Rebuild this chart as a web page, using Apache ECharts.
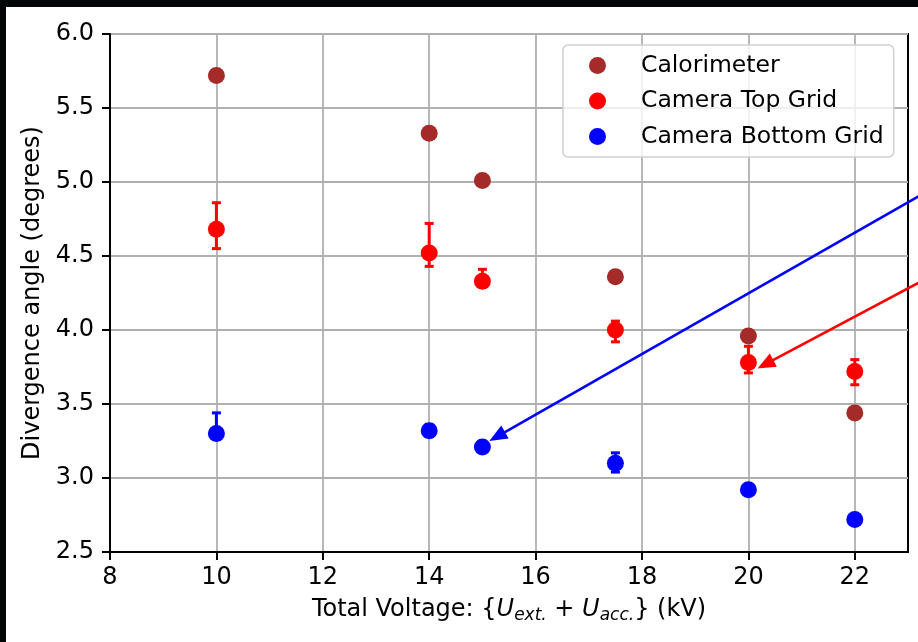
<!DOCTYPE html>
<html><head><meta charset="utf-8">
<script src="https://cdn.jsdelivr.net/npm/echarts@6/dist/echarts.min.js"></script>
<style>
html,body{margin:0;padding:0;background:#020606;width:918px;height:642px;overflow:hidden}
#chart{position:absolute;left:6px;top:7px;width:914px;height:637px;background:#fff}
</style></head><body><div id="chart"></div>
<script>
// ---- data ----
const voltage = [10, 14, 15, 17.5, 20, 22];
const calorimeter = [5.72, 5.33, 5.01, 4.36, 3.96, 3.44];
const topGrid = [4.68, 4.52, 4.33, 4.00, 3.78, 3.72];
const topGridLow = [4.55, 4.43, 4.29, 3.92, 3.71, 3.63];
const topGridHigh = [4.86, 4.72, 4.41, 4.06, 3.89, 3.80];
const bottomGrid = [3.30, 3.32, 3.21, 3.10, 2.92, 2.72];
const bottomGridLow = [3.26, 3.28, 3.19, 3.04, 2.90, 2.70];
const bottomGridHigh = [3.44, 3.36, 3.23, 3.17, 2.94, 2.74];
const xTicks = [8, 10, 12, 14, 16, 18, 20, 22];
const xMax = 23;
const yTicks = [2.5, 3.0, 3.5, 4.0, 4.5, 5.0, 5.5, 6.0];
// annotation arrows: [tailX, tailY, tipX, tipY]
const blueArrow = [23.62, 4.99, 15.13, 3.25];
const redArrow = [23.62, 4.40, 20.17, 3.74];
const seriesNames = ['Calorimeter', 'Camera Top Grid', 'Camera Bottom Grid'];
const colors = ['#a52a2a', '#ff0000', '#0000ff'];

const FONT = 'DejaVu Sans';
const pts = (ys) => voltage.map((x, i) => [x, ys[i]]);
const errs = (lo, hi) => voltage.map((x, i) => [x, lo[i], hi[i]]);

function errRender(color) {
  return function (params, api) {
    const x = api.value(0);
    const lo = api.coord([x, api.value(1)]);
    const hi = api.coord([x, api.value(2)]);
    const cw = 4.5;
    const st = { stroke: color, lineWidth: 3 };
    return { type: 'group', children: [
      { type: 'line', shape: { x1: lo[0], y1: lo[1], x2: hi[0], y2: hi[1] }, style: st },
      { type: 'line', shape: { x1: lo[0] - cw, y1: lo[1], x2: lo[0] + cw, y2: lo[1] }, style: st },
      { type: 'line', shape: { x1: hi[0] - cw, y1: hi[1], x2: hi[0] + cw, y2: hi[1] }, style: st }
    ] };
  };
}
function arrowRender(color) {
  return function (params, api) {
    const t = api.coord([api.value(0), api.value(1)]);
    const p = api.coord([api.value(2), api.value(3)]);
    const dx = p[0] - t[0], dy = p[1] - t[1];
    const L = Math.hypot(dx, dy);
    const ux = dx / L, uy = dy / L;
    const hl = 18, hw = 7.5;
    const bx = p[0] - ux * hl, by = p[1] - uy * hl;
    return { type: 'group', children: [
      { type: 'line', shape: { x1: t[0], y1: t[1], x2: bx + ux * 2, y2: by + uy * 2 }, style: { stroke: color, lineWidth: 2.6 } },
      { type: 'polygon', shape: { points: [[p[0], p[1]], [bx - uy * hw, by + ux * hw], [bx + uy * hw, by - ux * hw]] }, style: { fill: color } }
    ] };
  };
}

const chart = echarts.init(document.getElementById('chart'), null, { renderer: 'canvas' });
chart.setOption({
  animation: false,
  backgroundColor: '#ffffff',
  grid: { left: 104, top: 27, right: 12, bottom: 92, show: true, borderColor: '#000', borderWidth: 2, outerBoundsMode: 'none' },
  legend: {
    data: seriesNames,
    orient: 'vertical',
    left: 557, top: 38,
    icon: 'circle',
    itemWidth: 17, itemHeight: 17, itemGap: 11.5,
    padding: [8.5, 10, 8.5, 26],
    backgroundColor: 'rgba(255,255,255,0.8)',
    borderColor: '#d0d0d0', borderWidth: 1.5, borderRadius: 5,
    selectedMode: false,
    textStyle: { fontFamily: FONT, fontSize: 23.5, color: '#000', lineHeight: 24, padding: [0, 0, 0, 30] }
  },
  xAxis: {
    type: 'value', min: xTicks[0], max: xMax, interval: xTicks[1] - xTicks[0],
    name: 'Total Voltage: {{i|U}{s|ext.} + {i|U}{s|acc.}} (kV)',
    nameLocation: 'middle', nameGap: 43,
    nameTextStyle: {
      fontFamily: FONT, fontSize: 24, color: '#000',
      rich: {
        i: { fontFamily: FONT, fontStyle: 'italic', fontSize: 24, color: '#000' },
        s: { fontFamily: FONT, fontStyle: 'italic', fontSize: 17, color: '#000', padding: [12, 0, 0, 0] }
      }
    },
    axisLine: { show: true, onZero: false, lineStyle: { color: '#000', width: 2 } },
    axisTick: { show: true, length: 8, lineStyle: { color: '#000', width: 2 }, customValues: xTicks },
    axisLabel: { margin: 14, fontFamily: FONT, fontSize: 24, color: '#000', customValues: xTicks },
    splitLine: { show: true, lineStyle: { color: '#b0b0b0', width: 1.8 } }
  },
  yAxis: {
    type: 'value', min: yTicks[0], max: yTicks[yTicks.length - 1], interval: yTicks[1] - yTicks[0],
    name: 'Divergence angle (degrees)',
    nameLocation: 'middle', nameGap: 64,
    nameTextStyle: { fontFamily: FONT, fontSize: 24, color: '#000' },
    axisLine: { show: true, onZero: false, lineStyle: { color: '#000', width: 2 } },
    axisTick: { show: true, length: 8, lineStyle: { color: '#000', width: 2 } },
    axisLabel: { margin: 16, fontFamily: FONT, fontSize: 24, color: '#000', formatter: (v) => v.toFixed(1) },
    splitLine: { show: true, lineStyle: { color: '#b0b0b0', width: 1.8 } }
  },
  series: [
    { name: seriesNames[0], type: 'scatter', data: pts(calorimeter), symbol: 'circle', symbolSize: 17,
      itemStyle: { color: colors[0], opacity: 1 }, z: 3 },
    { name: 'topErr', type: 'custom', data: errs(topGridLow, topGridHigh), renderItem: errRender(colors[1]),
      encode: { x: 0, y: [1, 2] }, z: 4 },
    { name: seriesNames[1], type: 'scatter', data: pts(topGrid), symbol: 'circle', symbolSize: 17,
      itemStyle: { color: colors[1], opacity: 1 }, z: 5 },
    { name: 'bottomErr', type: 'custom', data: errs(bottomGridLow, bottomGridHigh), renderItem: errRender(colors[2]),
      encode: { x: 0, y: [1, 2] }, z: 4 },
    { name: seriesNames[2], type: 'scatter', data: pts(bottomGrid), symbol: 'circle', symbolSize: 17,
      itemStyle: { color: colors[2], opacity: 1 }, z: 5 },
    { name: 'blueArrow', type: 'custom', data: [blueArrow], renderItem: arrowRender(colors[2]),
      encode: { x: [0, 2], y: [1, 3] }, clip: false, z: 6 },
    { name: 'redArrow', type: 'custom', data: [redArrow], renderItem: arrowRender(colors[1]),
      encode: { x: [0, 2], y: [1, 3] }, clip: false, z: 6 }
  ]
});
</script></body></html>
